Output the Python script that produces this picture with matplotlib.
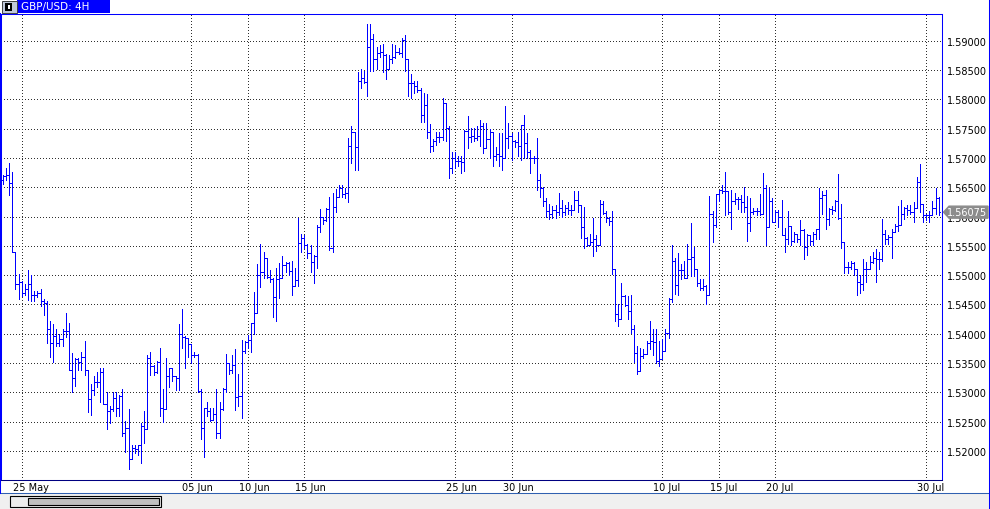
import numpy as np
import pandas as pd
import matplotlib
matplotlib.use("Agg")
import matplotlib.pyplot as plt
from matplotlib.patches import Rectangle, Polygon
from matplotlib.lines import Line2D

W, H = 990, 510

# данные графика (GBP/USD, 4H, с 22 мая 2015)
symbol = "GBP/USD: 4H"
first_day = "2015-05-22"
date_labels = ["25 May", "05 Jun", "10 Jun", "15 Jun", "25 Jun",
               "30 Jun", "10 Jul", "15 Jul", "20 Jul", "30 Jul"]
price_ticks = [1.520, 1.525, 1.530, 1.535, 1.540, 1.545, 1.550, 1.555,
               1.560, 1.565, 1.570, 1.575, 1.580, 1.585, 1.590]
first_open = 1.5662

bar_close = [
    1.5670, 1.5671, 1.5658, 1.5539, 1.5485, 1.5489, 1.5470, 1.5476, 1.5485, 1.5467,
    1.5467, 1.5470, 1.5456, 1.5452, 1.5408, 1.5384, 1.5396, 1.5385, 1.5391, 1.5405,
    1.5404, 1.5339, 1.5325, 1.5357, 1.5352, 1.5361, 1.5338, 1.5288, 1.5304, 1.5317,
    1.5317, 1.5334, 1.5280, 1.5268, 1.5271, 1.5291, 1.5274, 1.5294, 1.5230, 1.5240,
    1.5187, 1.5205, 1.5204, 1.5210, 1.5243, 1.5237, 1.5359, 1.5345, 1.5334, 1.5352,
    1.5274, 1.5271, 1.5328, 1.5341, 1.5328, 1.5324, 1.5399, 1.5394, 1.5392, 1.5382,
    1.5363, 1.5364, 1.5303, 1.5239, 1.5273, 1.5268, 1.5253, 1.5264, 1.5230, 1.5271,
    1.5306, 1.5350, 1.5338, 1.5347, 1.5292, 1.5294, 1.5370, 1.5386, 1.5390, 1.5418,
    1.5436, 1.5501, 1.5506, 1.5530, 1.5497, 1.5494, 1.5462, 1.5494, 1.5495, 1.5518,
    1.5521, 1.5507, 1.5481, 1.5492, 1.5555, 1.5564, 1.5552, 1.5538, 1.5522, 1.5532,
    1.5583, 1.5600, 1.5594, 1.5613, 1.5546, 1.5617, 1.5634, 1.5649, 1.5638, 1.5640,
    1.5721, 1.5744, 1.5718, 1.5831, 1.5836, 1.5829, 1.5890, 1.5903, 1.5868, 1.5879,
    1.5880, 1.5876, 1.5852, 1.5868, 1.5872, 1.5880, 1.5879, 1.5902, 1.5869, 1.5828,
    1.5828, 1.5822, 1.5816, 1.5773, 1.5791, 1.5745, 1.5720, 1.5729, 1.5736, 1.5736,
    1.5794, 1.5751, 1.5682, 1.5700, 1.5694, 1.5695, 1.5693, 1.5746, 1.5736, 1.5738,
    1.5734, 1.5737, 1.5755, 1.5717, 1.5733, 1.5744, 1.5703, 1.5706, 1.5703, 1.5700,
    1.5734, 1.5738, 1.5729, 1.5728, 1.5720, 1.5757, 1.5725, 1.5710, 1.5700, 1.5700,
    1.5663, 1.5649, 1.5627, 1.5610, 1.5605, 1.5612, 1.5608, 1.5615, 1.5608, 1.5615,
    1.5612, 1.5612, 1.5628, 1.5620, 1.5582, 1.5564, 1.5552, 1.5557, 1.5562, 1.5552,
    1.5622, 1.5606, 1.5597, 1.5593, 1.5511, 1.5434, 1.5426, 1.5465, 1.5449, 1.5439,
    1.5408, 1.5367, 1.5337, 1.5362, 1.5366, 1.5384, 1.5388, 1.5386, 1.5354, 1.5357,
    1.5371, 1.5402, 1.5459, 1.5525, 1.5483, 1.5508, 1.5508, 1.5496, 1.5528, 1.5531,
    1.5511, 1.5487, 1.5478, 1.5482, 1.5466, 1.5605, 1.5585, 1.5639, 1.5646, 1.5644,
    1.5643, 1.5607, 1.5627, 1.5630, 1.5630, 1.5624, 1.5617, 1.5589, 1.5607, 1.5609,
    1.5609, 1.5605, 1.5648, 1.5582, 1.5626, 1.5590, 1.5608, 1.5599, 1.5569, 1.5561,
    1.5584, 1.5559, 1.5571, 1.5561, 1.5577, 1.5548, 1.5569, 1.5558, 1.5571, 1.5578,
    1.5631, 1.5636, 1.5595, 1.5613, 1.5612, 1.5626, 1.5597, 1.5557, 1.5514, 1.5514,
    1.5521, 1.5510, 1.5489, 1.5485, 1.5511, 1.5510, 1.5522, 1.5529, 1.5527, 1.5528,
    1.5571, 1.5562, 1.5565, 1.5574, 1.5584, 1.5585, 1.5605, 1.5614, 1.5611, 1.5607,
    1.5615, 1.5659, 1.5622, 1.5602, 1.5602, 1.5603, 1.5615, 1.5631, 1.56075,
]

bar_high = [
    1.5671, 1.5682, 1.5691, 1.5676, 1.5539, 1.5502, 1.5490, 1.5485, 1.5508, 1.5500,
    1.5473, 1.5473, 1.5476, 1.5459, 1.5456, 1.5422, 1.5416, 1.5408, 1.5399, 1.5408,
    1.5436, 1.5419, 1.5368, 1.5359, 1.5359, 1.5369, 1.5387, 1.5339, 1.5314, 1.5328,
    1.5335, 1.5342, 1.5342, 1.5301, 1.5277, 1.5301, 1.5301, 1.5296, 1.5305, 1.5251,
    1.5272, 1.5211, 1.5210, 1.5211, 1.5248, 1.5268, 1.5363, 1.5369, 1.5346, 1.5354,
    1.5375, 1.5305, 1.5358, 1.5341, 1.5342, 1.5328, 1.5416, 1.5442, 1.5396, 1.5386,
    1.5382, 1.5369, 1.5365, 1.5305, 1.5273, 1.5284, 1.5273, 1.5273, 1.5306, 1.5283,
    1.5307, 1.5365, 1.5351, 1.5364, 1.5374, 1.5331, 1.5390, 1.5387, 1.5398, 1.5418,
    1.5472, 1.5519, 1.5553, 1.5539, 1.5530, 1.5509, 1.5495, 1.5512, 1.5521, 1.5533,
    1.5523, 1.5523, 1.5524, 1.5513, 1.5597, 1.5570, 1.5569, 1.5553, 1.5552, 1.5534,
    1.5586, 1.5613, 1.5600, 1.5614, 1.5633, 1.5640, 1.5647, 1.5654, 1.5653, 1.5649,
    1.5734, 1.5754, 1.5742, 1.5846, 1.5851, 1.5848, 1.5928, 1.5928, 1.5911, 1.5890,
    1.5893, 1.5894, 1.5877, 1.5875, 1.5894, 1.5892, 1.5888, 1.5905, 1.5910, 1.5843,
    1.5843, 1.5831, 1.5831, 1.5820, 1.5811, 1.5809, 1.5758, 1.5733, 1.5745, 1.5744,
    1.5802, 1.5751, 1.5755, 1.5710, 1.5710, 1.5703, 1.5703, 1.5748, 1.5771, 1.5751,
    1.5751, 1.5754, 1.5765, 1.5759, 1.5759, 1.5750, 1.5720, 1.5718, 1.5742, 1.5742,
    1.5788, 1.5759, 1.5742, 1.5731, 1.5745, 1.5757, 1.5774, 1.5742, 1.5714, 1.5703,
    1.5734, 1.5672, 1.5651, 1.5632, 1.5622, 1.5618, 1.5620, 1.5640, 1.5628, 1.5620,
    1.5625, 1.5619, 1.5643, 1.5644, 1.5619, 1.5616, 1.5565, 1.5570, 1.5597, 1.5569,
    1.5629, 1.5627, 1.5610, 1.5599, 1.5610, 1.5508, 1.5451, 1.5487, 1.5466, 1.5465,
    1.5466, 1.5415, 1.5380, 1.5375, 1.5374, 1.5387, 1.5421, 1.5408, 1.5409, 1.5388,
    1.5391, 1.5408, 1.5461, 1.5552, 1.5529, 1.5538, 1.5519, 1.5525, 1.5553, 1.5589,
    1.5548, 1.5511, 1.5494, 1.5493, 1.5483, 1.5635, 1.5610, 1.5639, 1.5646, 1.5654,
    1.5676, 1.5643, 1.5646, 1.5641, 1.5633, 1.5636, 1.5650, 1.5635, 1.5631, 1.5614,
    1.5614, 1.5639, 1.5675, 1.5654, 1.5648, 1.5631, 1.5611, 1.5611, 1.5629, 1.5581,
    1.5609, 1.5577, 1.5574, 1.5563, 1.5594, 1.5579, 1.5571, 1.5569, 1.5574, 1.5579,
    1.5649, 1.5643, 1.5645, 1.5615, 1.5618, 1.5628, 1.5673, 1.5622, 1.5557, 1.5523,
    1.5524, 1.5523, 1.5511, 1.5500, 1.5528, 1.5523, 1.5533, 1.5540, 1.5545, 1.5540,
    1.5596, 1.5577, 1.5568, 1.5579, 1.5588, 1.5618, 1.5628, 1.5616, 1.5619, 1.5619,
    1.5625, 1.5668, 1.5690, 1.5611, 1.5605, 1.5609, 1.5626, 1.5648, 1.5633,
]

bar_low = [
    1.5656, 1.5663, 1.5637, 1.5539, 1.5477, 1.5459, 1.5464, 1.5467, 1.5458, 1.5456,
    1.5456, 1.5462, 1.5448, 1.5432, 1.5385, 1.5361, 1.5352, 1.5379, 1.5379, 1.5379,
    1.5395, 1.5338, 1.5301, 1.5311, 1.5338, 1.5339, 1.5329, 1.5267, 1.5262, 1.5296,
    1.5310, 1.5284, 1.5280, 1.5237, 1.5247, 1.5268, 1.5259, 1.5260, 1.5226, 1.5198,
    1.5170, 1.5194, 1.5196, 1.5194, 1.5180, 1.5214, 1.5237, 1.5329, 1.5329, 1.5333,
    1.5260, 1.5250, 1.5317, 1.5309, 1.5320, 1.5304, 1.5304, 1.5375, 1.5342, 1.5361,
    1.5350, 1.5361, 1.5301, 1.5220, 1.5190, 1.5259, 1.5251, 1.5253, 1.5223, 1.5222,
    1.5270, 1.5300, 1.5331, 1.5333, 1.5270, 1.5276, 1.5256, 1.5367, 1.5375, 1.5369,
    1.5399, 1.5435, 1.5479, 1.5495, 1.5495, 1.5489, 1.5429, 1.5421, 1.5461, 1.5504,
    1.5505, 1.5501, 1.5466, 1.5481, 1.5481, 1.5540, 1.5546, 1.5529, 1.5506, 1.5486,
    1.5512, 1.5573, 1.5587, 1.5592, 1.5543, 1.5540, 1.5607, 1.5634, 1.5634, 1.5631,
    1.5625, 1.5691, 1.5680, 1.5680, 1.5820, 1.5828, 1.5805, 1.5848, 1.5848, 1.5852,
    1.5872, 1.5847, 1.5835, 1.5859, 1.5862, 1.5870, 1.5877, 1.5872, 1.5848, 1.5805,
    1.5802, 1.5811, 1.5812, 1.5762, 1.5762, 1.5734, 1.5710, 1.5711, 1.5722, 1.5728,
    1.5730, 1.5729, 1.5666, 1.5674, 1.5683, 1.5686, 1.5674, 1.5677, 1.5717, 1.5728,
    1.5729, 1.5731, 1.5720, 1.5708, 1.5717, 1.5700, 1.5687, 1.5697, 1.5686, 1.5680,
    1.5720, 1.5717, 1.5697, 1.5718, 1.5703, 1.5697, 1.5700, 1.5700, 1.5674, 1.5691,
    1.5646, 1.5633, 1.5618, 1.5600, 1.5595, 1.5597, 1.5598, 1.5602, 1.5600, 1.5602,
    1.5604, 1.5602, 1.5619, 1.5607, 1.5563, 1.5546, 1.5549, 1.5552, 1.5532, 1.5542,
    1.5552, 1.5604, 1.5590, 1.5586, 1.5502, 1.5421, 1.5413, 1.5426, 1.5448, 1.5426,
    1.5401, 1.5352, 1.5331, 1.5358, 1.5358, 1.5368, 1.5374, 1.5363, 1.5351, 1.5345,
    1.5363, 1.5375, 1.5392, 1.5454, 1.5468, 1.5466, 1.5494, 1.5495, 1.5496, 1.5498,
    1.5498, 1.5481, 1.5474, 1.5474, 1.5451, 1.5466, 1.5557, 1.5583, 1.5627, 1.5641,
    1.5603, 1.5605, 1.5578, 1.5622, 1.5613, 1.5608, 1.5608, 1.5559, 1.5576, 1.5605,
    1.5603, 1.5602, 1.5625, 1.5552, 1.5588, 1.5590, 1.5599, 1.5582, 1.5569, 1.5540,
    1.5554, 1.5551, 1.5556, 1.5557, 1.5552, 1.5528, 1.5535, 1.5551, 1.5551, 1.5561,
    1.5561, 1.5605, 1.5579, 1.5586, 1.5605, 1.5609, 1.5596, 1.5546, 1.5503, 1.5503,
    1.5510, 1.5501, 1.5467, 1.5470, 1.5474, 1.5489, 1.5514, 1.5520, 1.5489, 1.5511,
    1.5525, 1.5554, 1.5554, 1.5529, 1.5575, 1.5575, 1.5591, 1.5595, 1.5603, 1.5605,
    1.5591, 1.5615, 1.5607, 1.5591, 1.5594, 1.5590, 1.5602, 1.5605, 1.5602,
]

n = len(bar_close)
closes = np.array(bar_close)
# открытие бара = закрытие предыдущего
opens = np.array([first_open] + bar_close[:-1])
highs = np.maximum.reduce([np.array(bar_high), opens, closes])
lows = np.minimum.reduce([np.array(bar_low), opens, closes])

# время баров: 6 баров по 4 часа на каждый рабочий день
days = pd.bdate_range(first_day, periods=n // 6 + 1)
times = [d + pd.Timedelta(hours=4 * h) for d in days for h in range(6)][:n]
day_str = [t.strftime("%d %b") for t in times]
label_idx = [day_str.index(lab) for lab in date_labels]

fig = plt.figure(figsize=(W / 100, H / 100), dpi=100)
fig.patch.set_facecolor("white")


def fx(x):
    return x / W


def fy(y):
    return 1 - y / H


ax = fig.add_axes([fx(0.5), fy(481), (942 - 0.5) / W, (481 - 14.5) / H])
ax.set_facecolor("white")
ax.set_xlim(-0.765, 299.07)
ax.set_ylim(1.51506, 1.59464)

x = np.arange(n)
blue = "#0000ff"
tick = 0.45
lw = 0.7
ax.vlines(x, lows, highs, colors=blue, lw=lw, antialiased=False, zorder=3)
ax.hlines(opens, x - tick, x, colors=blue, lw=lw, antialiased=False, zorder=3)
ax.hlines(closes, x, x + tick, colors=blue, lw=lw, antialiased=False, zorder=3)

# сетка
ax.set_yticks(price_ticks)
ax.set_yticklabels(["%.5f" % p for p in price_ticks])
ax.set_xticks(label_idx)
ax.set_xticklabels([])
ax.grid(True, color="#303030", lw=0.7, ls=(0, (1, 2.3)), antialiased=False, zorder=1)
ax.yaxis.tick_right()
ax.tick_params(axis="both", length=0)
ax.tick_params(axis="y", labelsize=7, pad=3.3, labelcolor="black")

for s in ["top", "left", "right"]:
    ax.spines[s].set_color(blue)
    ax.spines[s].set_linewidth(0.75)
ax.spines["bottom"].set_color("#000080")
ax.spines["bottom"].set_linewidth(0.75)

# подписи дат
for idx, lab in zip(label_idx, date_labels):
    ax.annotate(lab, xy=(idx, 0), xycoords=("data", "axes fraction"),
                xytext=(-6.5, -4.8), textcoords="offset points",
                ha="left", va="center", fontsize=7, color="black")

# метка текущей цены (закрывает подпись 1.56000, как в терминале)
fig.canvas.draw()
yd = ax.transData.transform((0, bar_close[-1]))[1]
yp = H - yd
pts = [(fx(943.5), fy(yp)), (fx(949), fy(yp - 6)), (fx(988), fy(yp - 6)),
       (fx(988), fy(yp + 6)), (fx(949), fy(yp + 6))]
fig.add_artist(Polygon(pts, closed=True, transform=fig.transFigure,
                       facecolor="#8c8c8c", edgecolor="#8c8c8c", zorder=5))
fig.text(fx(967.5), fy(yp), "%.5f" % bar_close[-1], color="white", fontsize=7,
         ha="center", va="center", zorder=6)

# заголовок окна
fig.add_artist(Rectangle((fx(17), fy(14)), 93 / W, 14 / H, transform=fig.transFigure,
                         facecolor=blue, edgecolor="none", zorder=5))
fig.text(fx(21), fy(7.3), symbol, color="white", fontsize=7.5,
         ha="left", va="center", zorder=6)
fig.add_artist(Rectangle((fx(1.5), fy(13.5)), 15 / W, 12 / H, transform=fig.transFigure,
                         facecolor="#c0c8d8", edgecolor="#404040", lw=0.7, zorder=5))
fig.add_artist(Rectangle((fx(5), fy(11.5)), 7 / W, 8 / H, transform=fig.transFigure,
                         facecolor="black", edgecolor="none", zorder=6))
fig.add_artist(Rectangle((fx(7.5), fy(9.5)), 2 / W, 4 / H, transform=fig.transFigure,
                         facecolor="white", edgecolor="none", zorder=7))

# нижняя полоса прокрутки
fig.add_artist(Rectangle((0, 0), 1, (H - 494) / H, transform=fig.transFigure,
                         facecolor="#f0f0f0", edgecolor="none", zorder=4))
fig.add_artist(Line2D([0, fx(989)], [fy(494), fy(494)], transform=fig.transFigure,
                      color="#3060b0", lw=0.75, zorder=5))
fig.add_artist(Rectangle((fx(10), fy(507.7)), 151 / W, 10.4 / H, transform=fig.transFigure,
                         facecolor="#ececec", edgecolor="black", lw=0.8, zorder=5))
fig.add_artist(Rectangle((fx(28.3), fy(505.7)), 130.7 / W, 6.4 / H, transform=fig.transFigure,
                         facecolor="#c0c0c0", edgecolor="black", lw=0.8, zorder=6))

# рамка окна
fig.add_artist(Line2D([fx(988.5), fx(988.5)], [0, 1], transform=fig.transFigure,
                      color=blue, lw=0.75, zorder=5))
fig.add_artist(Line2D([fx(0.3), fx(0.3)], [fy(494), fy(14)], transform=fig.transFigure,
                      color=blue, lw=0.75, zorder=5))

fig.savefig("out.png", dpi=100, facecolor="white")
